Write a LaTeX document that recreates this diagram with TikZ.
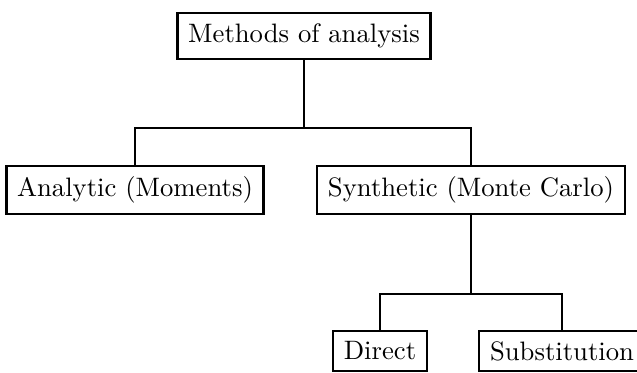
\documentclass[tikz,border=0pt]{standalone}
\usetikzlibrary{positioning}
\begin{document}
\begin{tikzpicture}[x=0.375pt, y=-0.375pt,
  box/.style={draw, thick, inner sep=4pt},
  link/.style={thick}]
\useasboundingbox (0,0) rectangle (637,373);

% Boxes
\node[box] (methods) at (304,36) {Methods of analysis};
\node[box] (analytic) at (135,190) {Analytic (Moments)};
\node[box] (synthetic) at (471,190) {Synthetic (Monte Carlo)};
\node[box] (direct) at (380,351) {Direct};
\node[box] (subst) at (562,351) {Substitution};

% Branch points
\coordinate (fork1) at (304,128);
\coordinate (fork2) at (471,294);

% Connectors
\draw[link] (methods.south) -- (fork1);
\draw[link] (fork1) -| (analytic.north);
\draw[link] (fork1) -| (synthetic.north);
\draw[link] (synthetic.south) -- (fork2);
\draw[link] (fork2) -| (direct.north);
\draw[link] (fork2) -| (subst.north);
\end{tikzpicture}
\end{document}
